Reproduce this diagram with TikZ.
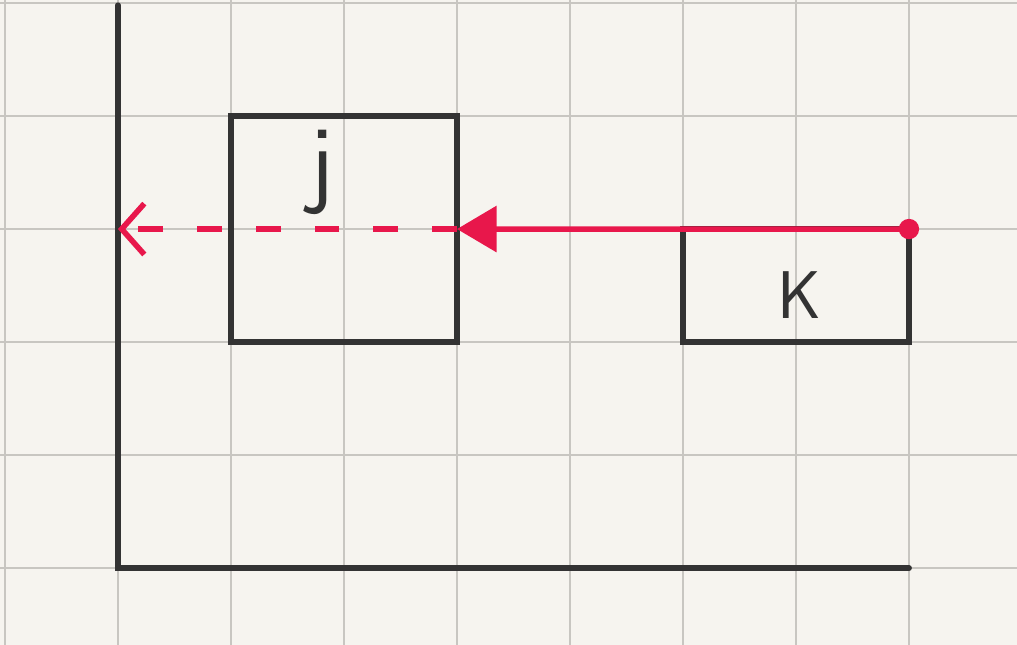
\documentclass[tikz,border=0pt]{standalone}
\usetikzlibrary{arrows.meta, positioning}
\definecolor{cpaper}{HTML}{F6F4EF}
\definecolor{cgrid}{HTML}{C8C6C1}
\definecolor{cink}{HTML}{333333}
\definecolor{cred}{HTML}{E8174B}
\tikzset{
  every picture/.style={font=\sffamily, line width=1.3pt},
  gridline/.style={draw=cgrid, line width=0.7pt},
  axis/.style={draw=cink, line width=1.5pt, line cap=round},
  box/.style={draw=cink, line width=1.3pt, inner sep=0pt, outer sep=0pt, minimum width=2cm},
  lbl/.style={text=cink, inner sep=0pt},
  redline/.style={draw=cred, line width=1.4pt},
  dashline/.style={redline, dash pattern=on 0.22cm off 0.3cm},
}

\begin{document}
\begin{tikzpicture}
  % paper and grid
  \fill[cpaper] (-1.044,-0.681) rectangle (7.956,5.027);
  \useasboundingbox (-1.044,-0.681) rectangle (7.956,5.027);
  \draw[gridline] (-1.044,-0.681) grid (7.956,5.027);
  % axes
  \coordinate (origin) at (0,0);
  \coordinate (ytop) at (0,4.98);
  \coordinate (xend) at (7,0);
  \coordinate (yhit) at (0,3);
  \draw[axis] (ytop) -- (origin) -- (xend);
  % the two boxes
  \node[box, minimum height=2cm] (j) at (2,3) {};
  \node[box, minimum height=1cm] (k) at (6,2.5) {};
  \node[lbl, font=\sffamily\fontsize{25}{25}\selectfont] (jtxt) at (1.8,3.5) {j};
  \node[lbl, font=\sffamily\fontsize{17}{17}\selectfont] (ktxt) at (6.03,2.42) {K};
  % red arrows
  \draw[dashline, -{Straight Barb[length=2mm, width=4.5mm]}] (j.east) -- (yhit);
  \draw[redline, -{Triangle[length=3.5mm, width=4mm]}] (k.north east) -- (j.east);
  \fill[cred] (k.north east) circle (0.09);
\end{tikzpicture}
\end{document}
